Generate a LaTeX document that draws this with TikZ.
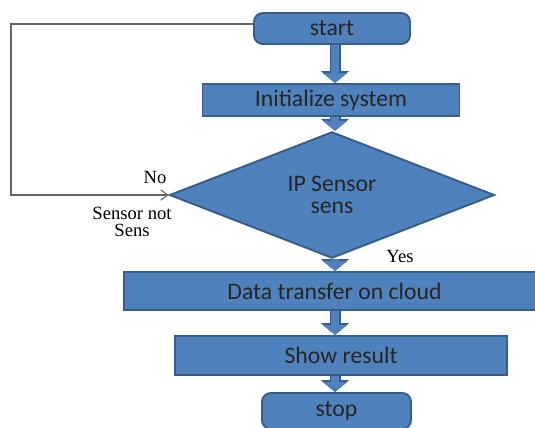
\documentclass[tikz,border=0pt]{standalone}
\usepackage{fontspec}
\setmainfont{Carlito}
\newfontfamily\labelfont{Liberation Serif}
\usetikzlibrary{shapes.geometric, arrows.meta}
\definecolor{boxblue}{HTML}{4F81BD}
\definecolor{boxedge}{HTML}{385D8A}
\definecolor{loopgray}{HTML}{666666}
\tikzset{
	box/.style={draw=boxedge, fill=boxblue, line width=1.1pt, text=black!85, font=\fontsize{13.5}{12.5}\selectfont, inner sep=0pt},
	terminal/.style={box, rounded corners=5pt},
	decision/.style={box, diamond, align=center},
	flow/.style={draw=boxblue, line width=0.17cm, -{Triangle[width=0.48cm, length=0.2cm]},
		preaction={draw=boxedge, line width=0.22cm, -{Triangle[width=0.55cm, length=0.24cm]}}},
	loopback/.style={draw=loopgray, line width=0.6pt, -{Straight Barb[length=4pt, width=6pt]}},
	lbl/.style={font=\labelfont\fontsize{10.6}{9.5}\selectfont, align=center},
}

\begin{document}
\begin{tikzpicture}[x=0.02cm, y=-0.02cm]
	\clip (0,0) rectangle (535,427);

	\node[terminal, minimum width=3.12cm, minimum height=0.62cm] (start) at (332,28.5) {start};
	\node[box, minimum width=5.14cm, minimum height=0.64cm] (init) at (331,100) {Initialize system};
	\node[decision, minimum width=6.5cm, minimum height=1.9cm] (sens) at (332,195) {IP Sensor\\sens};
	\node[box, minimum width=8.42cm, minimum height=0.76cm] (data) at (334.5,291) {Data transfer on cloud};
	\node[box, minimum width=6.64cm, minimum height=0.78cm] (show) at (341,355.5) {Show result};
	\node[terminal, minimum width=2.98cm, minimum height=0.72cm] (stop) at (336.5,411) {stop};

	\coordinate (axis) at (335,0);
	\coordinate (loop) at (11,24);

	\draw[flow] (start.south -| axis) -- (init.north -| axis);
	\draw[flow] (init.south -| axis) -- (sens.north -| axis);
	\draw[flow] (sens.south -| axis) -- (data.north -| axis);
	\draw[flow] (data.south -| axis) -- (show.north -| axis);
	\draw[flow] (show.south -| axis) -- (stop.north -| axis);

	\draw[loopback] (start.west |- loop) -- (loop) |- (sens.west);

	\node[lbl] (no) at (155,177) {No};
	\node[lbl] (notsens) at (132,222) {Sensor not\\Sens};
	\node[lbl] (yes) at (400,256) {Yes};
\end{tikzpicture}
\end{document}
